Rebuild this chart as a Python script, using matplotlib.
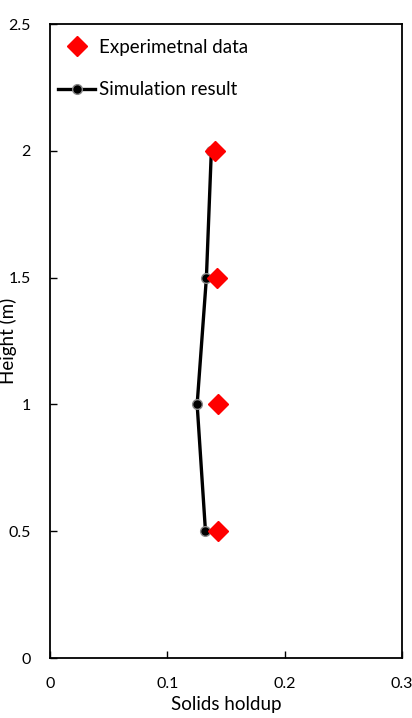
import matplotlib
matplotlib.use("Agg")
import matplotlib.pyplot as plt

plt.rcParams['font.family'] = ['Lato', 'DejaVu Sans']

exp_height = [2.0, 1.5, 1.0, 0.5]
exp_holdup = [0.141, 0.142, 0.1435, 0.143]
sim_height = [2.0, 1.5, 1.0, 0.5]
sim_holdup = [0.1375, 0.1333, 0.1254, 0.1325]

fig = plt.figure(figsize=(4.12, 7.18), dpi=100)
ax = fig.add_axes([50/412, 60/718, 352/412, 634/718])

ax.plot(sim_holdup, sim_height, color='black', lw=2.4, marker='o', ms=7,
        markerfacecolor='black', markeredgecolor='#888888', mew=1.0,
        label='Simulation result', zorder=2)
ax.plot(exp_holdup, exp_height, linestyle='none', marker='D', ms=10,
        color='#ff0000', label='Experimetnal data', zorder=3)

ax.set_xlim(0, 0.3)
ax.set_ylim(0, 2.5)
ax.set_xticks([0, 0.1, 0.2, 0.3])
ax.set_xticklabels(['0', '0.1', '0.2', '0.3'])
ax.set_yticks([0, 0.5, 1, 1.5, 2, 2.5])
ax.set_yticklabels(['0', '0.5', '1', '1.5', '2', '2.5'])
ax.tick_params(direction='in', length=5, width=1, labelsize=11.5)
ax.tick_params(axis='x', pad=14)
ax.tick_params(axis='y', pad=14)
for s in ax.spines.values():
    s.set_linewidth(1.3)

ax.set_xlabel('Solids holdup', fontsize=13.5)
ax.set_ylabel('Height (m)', fontsize=13.5)
ax.xaxis.set_label_coords(0.5, -0.060)
ax.yaxis.set_label_coords(-0.094, 0.5)

h, l = ax.get_legend_handles_labels()
ax.legend([h[1], h[0]], [l[1], l[0]], loc='upper left', frameon=False,
          fontsize=13.5, bbox_to_anchor=(-0.02, 1.0), handlelength=2.0,
          handletextpad=0.2, labelspacing=1.35, borderaxespad=0.4)

fig.savefig('out.png', dpi=100)
